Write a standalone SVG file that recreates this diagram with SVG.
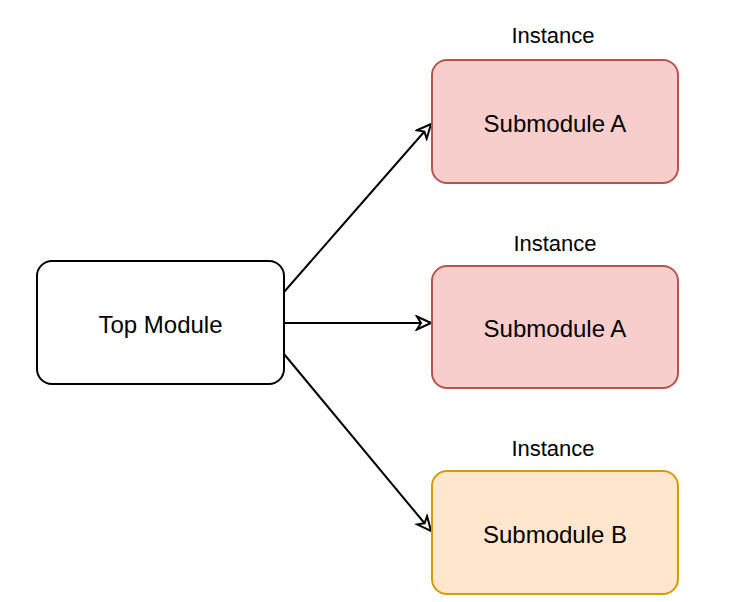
<svg xmlns="http://www.w3.org/2000/svg" width="736" height="602" viewBox="0 0 736 602">
<defs>
<style>
text{font-family:"Liberation Sans",Arial,sans-serif;fill:#000;text-anchor:middle;dominant-baseline:central}
.n{font-size:24px}
.lbl{font-size:22px}
.edge{fill:none;stroke:#000;stroke-width:2}
</style>
<marker id="arr" viewBox="0 0 18 16" refX="16" refY="8" markerWidth="18" markerHeight="16" markerUnits="userSpaceOnUse" orient="auto">
<path d="M2,1.5 L16,8 L2,14.5 L6,8 Z" fill="#fff" stroke="#000" stroke-width="2" stroke-linejoin="miter"/>
</marker>
</defs>
<rect width="736" height="602" fill="#fff"/>
<g id="connectors">
<line class="edge" x1="284" y1="292" x2="431" y2="124" marker-end="url(#arr)"/>
<line class="edge" x1="284" y1="323" x2="431" y2="323" marker-end="url(#arr)"/>
<line class="edge" x1="284" y1="354" x2="431" y2="531" marker-end="url(#arr)"/>
</g>
<g id="top">
<rect x="37" y="261" width="247" height="123" rx="15" fill="#fff" stroke="#000" stroke-width="2"/>
<text class="n" x="160.5" y="324">Top Module</text>
</g>
<g id="subA1">
<text class="lbl" x="553" y="35">Instance</text>
<rect x="432" y="60" width="246" height="123" rx="15" fill="#f8cecc" stroke="#b85450" stroke-width="2"/>
<text class="n" x="555" y="123">Submodule A</text>
</g>
<g id="subA2">
<text class="lbl" x="555" y="243">Instance</text>
<rect x="432" y="266" width="246" height="122" rx="15" fill="#f8cecc" stroke="#b85450" stroke-width="2"/>
<text class="n" x="555" y="328">Submodule A</text>
</g>
<g id="subB">
<text class="lbl" x="553" y="448">Instance</text>
<rect x="432" y="471" width="246" height="123" rx="15" fill="#ffe6cc" stroke="#d79b00" stroke-width="2"/>
<text class="n" x="555" y="534">Submodule B</text>
</g>
</svg>
